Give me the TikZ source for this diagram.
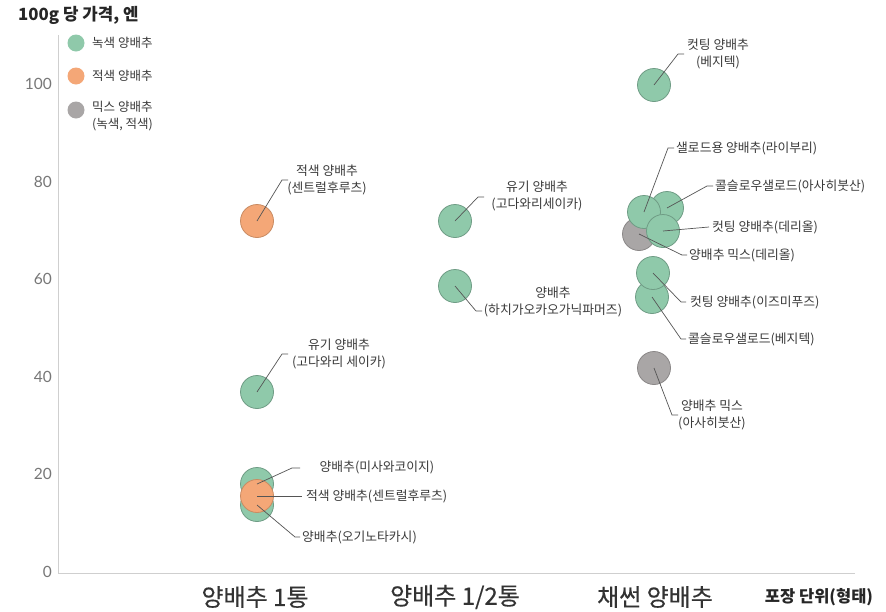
\documentclass[tikz,border=0pt]{standalone}
\usepackage{fontspec}
\setmainfont{Noto Sans CJK KR}
\newfontfamily\numfont{Lato}
\newfontfamily\krmed[FakeBold=0.4]{Noto Sans CJK KR}
\definecolor{grn}{HTML}{8FC9AA}
\definecolor{grnline}{HTML}{6F9C85}
\definecolor{org}{HTML}{F4A777}
\definecolor{orgline}{HTML}{C98B62}
\definecolor{mix}{HTML}{A9A6A6}
\definecolor{mixline}{HTML}{8A8787}
\definecolor{leadc}{HTML}{555555}
\definecolor{txt}{HTML}{3A3A3A}
\definecolor{axisc}{HTML}{CFCFCF}
\definecolor{tickc}{HTML}{777777}
\tikzset{
  gdot/.style={circle, fill=grn, draw=grnline, line width=0.8pt, minimum size=33pt, inner sep=0pt},
  odot/.style={circle, fill=org, draw=orgline, line width=0.8pt, minimum size=33pt, inner sep=0pt},
  mdot/.style={circle, fill=mix, draw=mixline, line width=0.8pt, minimum size=33pt, inner sep=0pt},
  lgd/.style={circle, minimum size=17pt, inner sep=0pt},
  lead/.style={draw=leadc, line width=0.7pt},
  lbl/.style={font=\fontsize{12.8}{17.5}\selectfont, text=txt, inner sep=0pt, align=center},
  lgdtxt/.style={font=\fontsize{12.5}{16.5}\selectfont, text=txt, inner sep=0pt, align=left, anchor=west},
  ytick/.style={font=\numfont\fontsize{15.5}{15.5}\selectfont, text=tickc, inner sep=0pt, anchor=east},
  cat/.style={font=\krmed\fontsize{24}{24}\selectfont, text=black!80, inner sep=0pt},
}
\begin{document}
\begin{tikzpicture}[x=1pt,y=-1pt]
\useasboundingbox (0,0) rectangle (886,611);
\fill[white] (0,0) rectangle (886,611);
% axes
\coordinate (ytop) at (58,35);
\coordinate (orig) at (58,573);
\coordinate (xend) at (855,573);
\draw[axisc, line width=1pt] (ytop) -- (orig) -- (xend);
% title
\node[font=\bfseries\fontsize{16.8}{17}\selectfont, text=black!85, inner sep=0pt, anchor=west] (title) at (18,15) {100g 당 가격, 엔};
% y ticks
\node[ytick] (t100) at (52,84) {100};
\node[ytick] (t80) at (52,182) {80};
\node[ytick] (t60) at (52,279) {60};
\node[ytick] (t40) at (52,377) {40};
\node[ytick] (t20) at (52,474) {20};
\node[ytick] (t0) at (52,572) {0};
% legend
\node[lgd, fill=grn] (lg1) at (76,43) {};
\node[lgd, fill=org] (lg2) at (76,76) {};
\node[lgd, fill=mix] (lg3) at (76,110) {};
\node[lgdtxt] (lt1) at (92,43) {녹색 양배추};
\node[lgdtxt] (lt2) at (92,76) {적색 양배추};
\node[lgdtxt, anchor=north west] (lt3) at (92,101) {믹스 양배추\\(녹색, 적색)};
% category labels
\node[cat] (c1) at (255,597) {양배추 1통};
\node[cat] (c2) at (455,597) {양배추 1/2통};
\node[cat] (c3) at (655,597) {채썬 양배추};
\node[font=\bfseries\fontsize{16.5}{17}\selectfont, text=black!85, inner sep=0pt] (xl) at (819,597) {포장 단위(형태)};
% ---- column 1
\node[odot] (r1) at (257,221) {};
\node[gdot] (a1) at (257,392) {};
\node[gdot] (b1) at (257,484) {};
\node[gdot] (b3) at (257,505) {};
\node[odot] (b2) at (257,496) {};
% ---- column 2
\node[gdot] (d1) at (455,221) {};
\node[gdot] (d2) at (455,286) {};
% ---- column 3
\node[gdot] (e0) at (654,85) {};
\node[mdot] (e4) at (639,234) {};
\node[gdot] (e2) at (667,208) {};
\node[gdot] (e1) at (644,212) {};
\node[gdot] (e3) at (663,231) {};
\node[gdot] (e6) at (652,297) {};
\node[gdot] (e5) at (653,273) {};
\node[mdot] (e7) at (654,368) {};
% ---- labels
\node[lbl] (lr1) at (327,180) {적색 양배추\\(센트럴후루츠)};
\node[lbl] (la1) at (339,354) {유기 양배추\\(고다와리 세이카)};
\node[lbl] (ld1) at (537,196) {유기 양배추\\(고다와리세이카)};
\node[lbl] (ld2) at (553,302) {양배추\\(하치가오카오가닉파머즈)};
\node[lbl] (le0) at (718,54) {컷팅 양배추\\(베지텍)};
\node[lbl, anchor=west] (le1) at (676,148) {샐로드용 양배추(라이부리)};
\node[lbl, anchor=west] (le2) at (715,186) {콜슬로우샐로드(아사히붓산)};
\node[lbl, anchor=west] (le3) at (712,227) {컷팅 양배추(데리올)};
\node[lbl, anchor=west] (le4) at (689,255) {양배추 믹스(데리올)};
\node[lbl, anchor=west] (le5) at (690,302) {컷팅 양배추(이즈미푸즈)};
\node[lbl, anchor=west] (le6) at (688,339) {콜슬로우샐로드(베지텍)};
\node[lbl] (le7) at (712,415) {양배추 믹스\\(아사히붓산)};
\node[lbl] (lb1) at (377,467) {양배추(미사와코이지)};
\node[lbl, anchor=west] (lb2) at (306,496) {적색 양배추(센트럴후루츠)};
\node[lbl, anchor=west] (lb3) at (302,537) {양배추(오기노타카시)};
% ---- leader lines
\coordinate (kr1) at (282,180); \coordinate (er1) at (288,180);
\coordinate (ka1) at (282,354); \coordinate (ea1) at (288,354);
\coordinate (kd1) at (478,197); \coordinate (ed1) at (484,197);
\coordinate (kd2) at (476,311); \coordinate (ed2) at (482,311);
\coordinate (ke0) at (678,54); \coordinate (ee0) at (684,54);
\coordinate (ke1) at (668,148);
\coordinate (ke2) at (707,186);
\coordinate (ke4) at (682,255);
\coordinate (ke5) at (681,302);
\coordinate (ke6) at (681,339);
\coordinate (ke7) at (672,415); \coordinate (ee7) at (678,415);
\coordinate (kb1) at (292,468); \coordinate (eb1) at (300,468);
\coordinate (kb3) at (295,537);
\draw[lead] (r1.center) -- (kr1) -- (er1);
\draw[lead] (a1.center) -- (ka1) -- (ea1);
\draw[lead] (d1.center) -- (kd1) -- (ed1);
\draw[lead] (d2.center) -- (kd2) -- (ed2);
\draw[lead] (e0.center) -- (ke0) -- (ee0);
\draw[lead] (e1.center) -- (ke1) -- ([xshift=-2pt]le1.west);
\draw[lead] (e2.center) -- (ke2) -- ([xshift=-2pt]le2.west);
\draw[lead] (e3.center) -- ([xshift=-3pt]le3.west);
\draw[lead] (e4.center) -- (ke4) -- ([xshift=-2pt]le4.west);
\draw[lead] (e5.center) -- (ke5) -- ([xshift=-4pt]le5.west);
\draw[lead] (e6.center) -- (ke6) -- ([xshift=-2pt]le6.west);
\draw[lead] (e7.center) -- (ke7) -- (ee7);
\draw[lead] (b1.center) -- (kb1) -- (eb1);
\draw[lead] (b2.center) -- ([xshift=-4pt]lb2.west);
\draw[lead] (b3.center) -- (kb3) -- ([xshift=-2pt]lb3.west);
\end{tikzpicture}
\end{document}
